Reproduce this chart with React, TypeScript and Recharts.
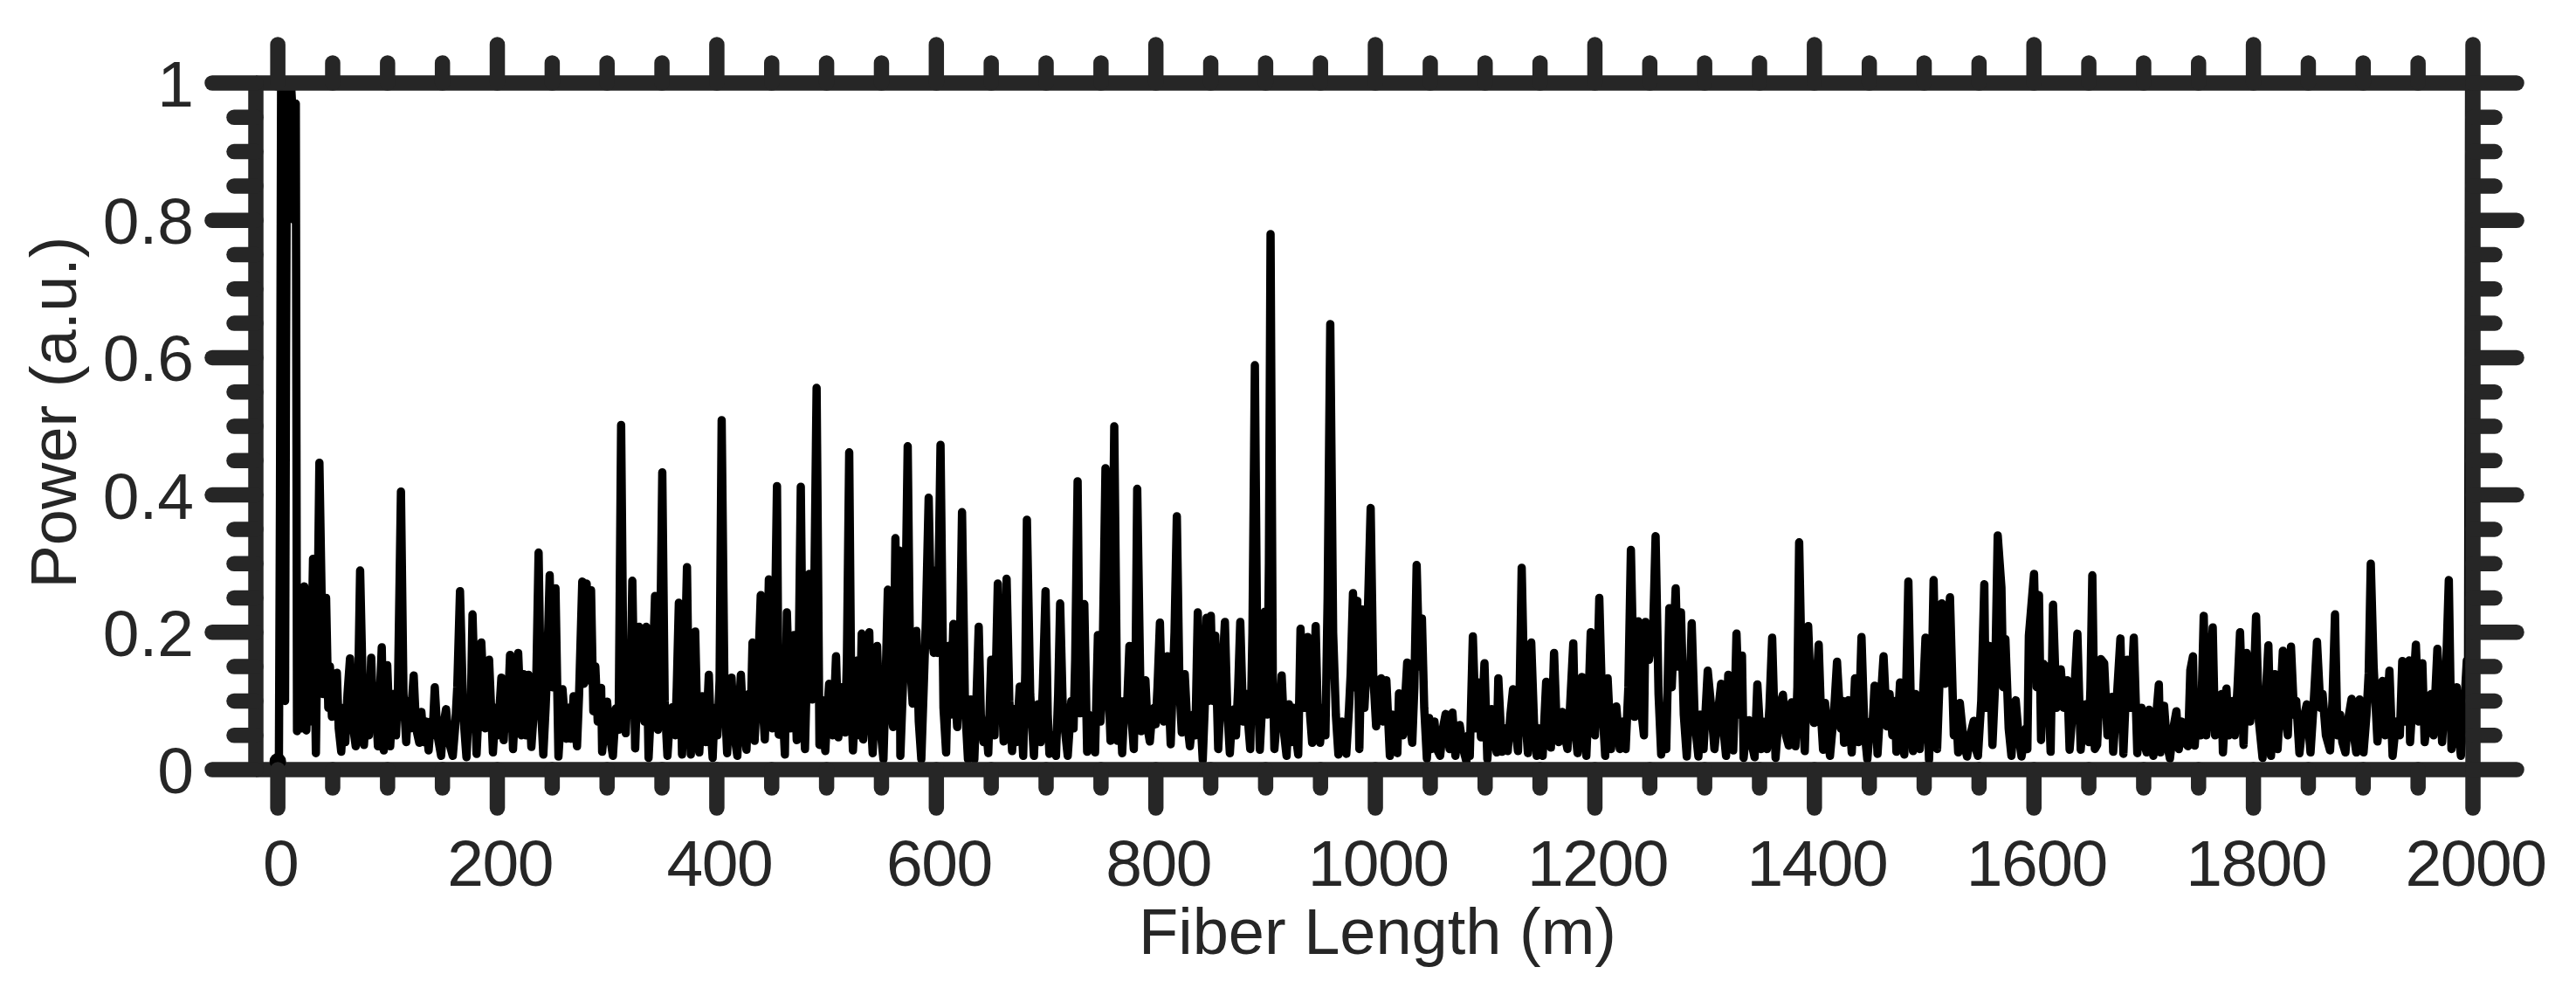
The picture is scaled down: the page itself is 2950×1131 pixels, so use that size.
import React from "react";
import { LineChart, Line, XAxis, YAxis, ReferenceDot } from "recharts";

// [fiber length in m, power in a.u.], one list per stretch of fibre
const stretch0to320 = [[0,.01],[1,.01],[2,.4],[3,.99],[4.5,1],[6,.98],[6.6,.1],[7.5,.6],[8.5,1],[10,.99],[12,1],[13,.97],[15,.8],[16,.85],[16.4,.97],[17.5,.056],[19.5,.14],[21,.06],[24.1,.267],[26,.057],[28,.17],[29.5,.07],[32.1,.307],[34.7,.024],[37.9,.447],[41.4,.11],[44,.25],[46,.09],[47.5,.15],[49.3,.077],[51,.12],[53.8,.141],[55.5,.06],[57.8,.026],[60,.09],[61.5,.04],[63.5,.11],[65.8,.162],[68,.07],[71,.034],[73,.1],[75,.29],[78.5,.036],[81,.108],[83,.05],[85.1,.163],[87,.07],[89,.11],[91.2,.034],[92.5,.09],[94.7,.178],[96.5,.028],[99.7,.152],[102.4,.034],[105,.11],[107.7,.05],[109.5,.12],[112.2,.405],[114.5,.11],[117,.04],[119,.1],[120.5,.06],[123.8,.137],[126,.06],[128.9,.039],[130.8,.084],[133,.04],[135,.07],[137.4,.028],[139.5,.07],[141,.05],[143,.12],[145.5,.05],[148.8,.02],[150.5,.06],[153.3,.088],[156,.04],[159.4,.02],[161.5,.06],[163.5,.12],[166,.26],[169,.08],[171.9,.018],[174,.09],[175.5,.06],[177.4,.226],[181.1,.023],[183,.09],[185.4,.185],[189,.06],[192.5,.16],[196,.025],[198.5,.09],[200.5,.05],[203.7,.134],[205.8,.043],[207.5,.1],[209,.06],[211.6,.167],[214.3,.03],[216.5,.1],[219,.17],[222,.05],[223.8,.139],[226,.05],[228.3,.138],[231,.033],[233.5,.09],[235.5,.13],[237.6,.316],[239.8,.09],[241.9,.022],[244,.09],[245.5,.15],[247.7,.283],[250,.12],[253,.264],[255.7,.019],[259.4,.117],[262.8,.045],[264.7,.09],[267,.045],[269.5,.107],[272.6,.034],[274.5,.11],[277.4,.274],[279,.125],[281.4,.271],[283,.13],[285.4,.261],[287.5,.085],[289.3,.15],[291.5,.07],[294.6,.119],[295.5,.026],[298,.07],[300,.099],[302.5,.05],[305.3,.02],[308,.089],[310.5,.058],[312.8,.502],[315,.11],[317,.053]];
const stretch320to650 = [[319,.13],[321,.08],[323,.275],[325.6,.031],[327,.1],[329,.208],[331,.09],[332.5,.13],[334,.07],[335.7,.208],[337.8,.017],[340,.09],[341.5,.14],[343.7,.253],[346.3,.058],[348,.13],[350.3,.433],[352.5,.1],[355,.02],[357,.07],[359.6,.091],[362,.05],[363.5,.12],[365.4,.243],[368.3,.022],[370,.1],[372.8,.295],[374.5,.09],[376.3,.022],[378,.11],[380.3,.201],[382,.08],[384,.025],[386.6,.107],[390,.04],[392.7,.138],[394.5,.06],[396.2,.017],[398,.09],[400.5,.05],[402.5,.13],[404.4,.509],[407,.11],[409.4,.024],[411,.09],[413.4,.134],[416,.05],[418.7,.02],[420,.08],[421.9,.138],[424,.07],[427,.029],[429,.11],[430.5,.05],[432.5,.185],[434.4,.042],[436.5,.11],[438,.16],[440,.254],[442,.09],[443.7,.044],[445.5,.13],[447.4,.277],[450.5,.06],[452.5,.16],[454.8,.413],[456.4,.051],[459,.12],[462,.022],[463.8,.229],[467,.06],[468.5,.11],[470.2,.196],[472.8,.043],[474.5,.15],[476.5,.412],[478.5,.1],[480.3,.03],[482,.14],[484.2,.285],[486.9,.102],[488.5,.22],[490.9,.556],[493.5,.036],[496,.101],[498.8,.027],[500.5,.08],[502.3,.125],[505.5,.05],[507,.1],[508.6,.165],[510.7,.047],[513.4,.12],[516.8,.054],[518.5,.16],[520.6,.462],[522.5,.1],[524,.028],[526,.09],[528,.159],[530,.05],[532,.198],[533.3,.044],[536,.12],[538.9,.2],[540.5,.07],[542,.024],[544,.1],[546,.18],[548.5,.07],[551.8,.015],[553.5,.11],[555.8,.262],[558,.1],[560.6,.062],[562.7,.337],[564,.15],[566.5,.319],[567.2,.02],[569.5,.12],[571.5,.2],[573.9,.471],[576,.16],[578.4,.096],[581.8,.202],[584,.07],[586.3,.015],[588.5,.12],[590.5,.22],[593,.396],[595.5,.2],[597.7,.17],[599.6,.29],[601,.17],[603.8,.473],[606.5,.09],[608.9,.025],[611,.18],[613,.08],[615.5,.212],[617.5,.1],[619,.062],[621.5,.18],[623.4,.375],[626,.1],[628.8,.015],[631.4,.102],[634.6,.015],[636.5,.1],[638.6,.208],[640.5,.08],[643,.04],[645,.07],[647.3,.024],[650,.16]];
const stretch650to985 = [[653,.05],[656,.271],[658,.08],[659.5,.13],[661.3,.041],[664,.278],[666.5,.1],[669,.027],[671,.088],[673,.04],[676,.121],[679.1,.02],[681,.14],[682.5,.364],[685.5,.11],[688.9,.02],[690.5,.08],[692.4,.095],[695,.04],[697,.12],[699.5,.26],[701.5,.08],[703,.023],[706,.05],[709,.02],[711,.11],[712.8,.242],[715,.1],[717,.06],[719.7,.02],[723,.1],[725,.06],[726.5,.16],[728.7,.42],[730.8,.082],[733,.12],[734.8,.241],[737.4,.026],[739,.08],[741,.07],[744.6,.025],[747.2,.196],[749.5,.07],[751,.11],[754.1,.439],[756.5,.14],[758.7,.042],[760,.2],[762.1,.5],[765,.042],[767.4,.1],[769.3,.024],[771.5,.1],[773.5,.08],[775.9,.18],[778,.07],[779.9,.03],[781.5,.15],[783,.409],[786.5,.056],[788,.1],[790.5,.13],[792.5,.06],[794.5,.041],[796.5,.08],[798.4,.09],[799.8,.066],[801.5,.12],[803.7,.214],[805.5,.1],[807.2,.07],[810.4,.165],[813.5,.037],[815.5,.13],[817,.2],[819.1,.369],[821.5,.12],[823.6,.054],[826.3,.139],[828.5,.07],[831,.034],[834,.08],[836,.05],[838.2,.229],[840.5,.08],[842.7,.014],[844.5,.09],[846.2,.221],[848,.1],[850.1,.224],[852,.1],[854.1,.195],[856.8,.03],[859,.1],[860.5,.14],[862.9,.215],[865,.09],[867.4,.024],[869.5,.08],[871.4,.088],[873,.05],[875,.12],[876.9,.215],[879.5,.07],[882.5,.11],[884.5,.06],[886,.03],[888,.2],[890.2,.589],[892.5,.14],[894.7,.029],[897,.1],[899.2,.23],[901.5,.08],[903,.3],[904.5,.78],[906.5,.14],[908,.03],[911,.09],[912.5,.06],[914.6,.137],[917,.05],[919.1,.02],[921.2,.095],[923,.04],[925.5,.09],[927.5,.05],[929.7,.022],[931.8,.205],[935,.09],[938.2,.193],[940.5,.08],[942.4,.039],[944,.12],[945.6,.209],[947.5,.08],[949.6,.039],[952.2,.09],[954.5,.05],[956.5,.25],[958.9,.649],[961.5,.2],[964,.08],[966.3,.022],[969.5,.07],[971.5,.04],[973.5,.023],[976,.09],[977.5,.14],[979.6,.257],[981.5,.12],[983.5,.246],[985.4,.03]];
const stretch985to1320 = [[988,.233],[990,.09],[992,.15],[993.5,.25],[995.7,.381],[998,.14],[1000.7,.063],[1003,.11],[1005.2,.133],[1007,.07],[1010,.13],[1013.2,.02],[1016,.08],[1018,.04],[1020,.024],[1021.5,.111],[1025,.05],[1027,.1],[1029,.156],[1031,.07],[1033.6,.039],[1035.5,.12],[1037.6,.298],[1040,.15],[1042.4,.22],[1044.5,.09],[1046.9,.016],[1049,.075],[1051,.03],[1053.8,.07],[1056,.03],[1059,.02],[1061.5,.06],[1064,.081],[1067.6,.03],[1070.2,.083],[1072.9,.02],[1075,.05],[1076.8,.065],[1080,.03],[1082.9,.012],[1084.8,.05],[1086,.02],[1088.8,.194],[1091.5,.06],[1094,.127],[1096.2,.047],[1099.4,.155],[1102,.015],[1104,.06],[1106,.088],[1108,.05],[1110.5,.025],[1112,.133],[1115.3,.026],[1118,.06],[1120.6,.027],[1123,.08],[1125.4,.117],[1127.5,.06],[1129.9,.027],[1131.5,.12],[1133.3,.294],[1136,.09],[1139,.024],[1142,.185],[1144.5,.07],[1147,.02],[1148.4,.06],[1150.5,.03],[1152.4,.02],[1155.6,.128],[1159.9,.032],[1161,.08],[1162.8,.17],[1165,.07],[1167,.04],[1170.2,.084],[1172.5,.05],[1175,.03],[1177,.08],[1180.3,.184],[1182,.06],[1184.2,.024],[1186,.08],[1188.2,.135],[1190,.06],[1192.2,.02],[1194,.09],[1196.2,.2],[1198,.1],[1200,.05],[1202,.12],[1204,.25],[1206.5,.1],[1209.4,.02],[1211.6,.133],[1214.7,.03],[1217,.07],[1219.5,.092],[1222.7,.03],[1225.4,.07],[1228,.03],[1230.5,.12],[1232.8,.32],[1236,.077],[1239.4,.216],[1242,.09],[1244.7,.05],[1246,.215],[1249.2,.16],[1253,.2],[1255.3,.34],[1258,.11],[1260.4,.022],[1263,.08],[1265,.03],[1267.8,.235],[1270,.12],[1273.6,.264],[1275.5,.15],[1278.4,.229],[1281,.08],[1283.7,.019],[1286,.09],[1288.2,.213],[1291,.07],[1294.3,.019],[1296.2,.08],[1299,.03],[1301,.09],[1302.8,.144],[1306,.09],[1308.9,.03],[1312,.08],[1315,.125],[1317,.06],[1319.5,.02]];
const stretch1320to1655 = [[1321.5,.138],[1326,.028],[1327.5,.1],[1329,.198],[1331.5,.08],[1334,.166],[1335.5,.017],[1338,.06],[1340.2,.072],[1342.5,.04],[1345.5,.018],[1348,.124],[1351.4,.03],[1352.7,.07],[1356.7,.03],[1359,.09],[1361.5,.192],[1364.6,.017],[1368,.09],[1371.3,.109],[1374,.05],[1376.6,.035],[1379.2,.098],[1382.7,.034],[1384.5,.12],[1386.1,.331],[1389,.09],[1391.2,.027],[1394.3,.209],[1397,.1],[1399.6,.068],[1401.5,.11],[1403.9,.182],[1406,.08],[1407.9,.029],[1409.7,.097],[1412,.05],[1414.2,.02],[1417,.07],[1418.5,.1],[1420.6,.157],[1424,.06],[1426,.1],[1427,.039],[1429,.08],[1431,.101],[1434,.025],[1437,.133],[1440,.04],[1442.9,.193],[1445.5,.06],[1448.2,.015],[1451,.07],[1452.5,.05],[1454.8,.122],[1457.5,.023],[1460,.09],[1463,.165],[1466,.063],[1468.5,.11],[1471,.05],[1473.4,.1],[1474.7,.026],[1478,.127],[1480,.05],[1481.9,.022],[1483.5,.11],[1485.6,.274],[1488,.08],[1489.8,.027],[1492,.11],[1494,.05],[1496,.03],[1498.5,.09],[1501.2,.192],[1504.4,.014],[1506.5,.1],[1508.6,.276],[1511.8,.03],[1514,.13],[1516,.242],[1519,.125],[1521.5,.19],[1523.5,.251],[1527,.05],[1529,.09],[1531,.025],[1532.5,.097],[1536,.04],[1539.1,.019],[1542,.05],[1545.2,.071],[1547,.03],[1549,.02],[1552,.1],[1554.8,.27],[1556,.09],[1559.6,.18],[1562.2,.036],[1564.5,.12],[1567,.341],[1570.4,.265],[1572,.12],[1574,.19],[1577,.06],[1579.5,.02],[1581.5,.07],[1583.4,.101],[1586,.05],[1588.7,.019],[1592.7,.06],[1594,.03],[1595.4,.195],[1600.1,.285],[1602.5,.12],[1604.6,.254],[1606.5,.043],[1608.6,.154],[1610.5,.09],[1612.6,.15],[1615.2,.026],[1617.4,.24],[1620.5,.09],[1624.5,.146],[1627,.09],[1630.4,.13],[1632.5,.029],[1635,.08],[1637,.12],[1639.6,.198],[1642.6,.029],[1645,.08],[1647,.095],[1650,.04],[1651.5,.12],[1653.2,.283]];
const stretch1655to2000 = [[1655.5,.03],[1657.6,.036],[1661,.161],[1664,.155],[1667,.05],[1669,.09],[1670.9,.106],[1672.2,.026],[1675,.09],[1678.8,.191],[1681.5,.023],[1685,.16],[1688,.09],[1691,.192],[1694.2,.024],[1696,.06],[1698,.09],[1700,.04],[1702.7,.025],[1704.8,.087],[1708.8,.02],[1711,.07],[1713.8,.124],[1715.2,.025],[1718.6,.093],[1721,.04],[1723.9,.016],[1727,.06],[1729.8,.085],[1732,.03],[1734.5,.07],[1737,.04],[1740.4,.034],[1742.5,.145],[1744.9,.165],[1746.5,.035],[1749.6,.11],[1752,.05],[1754.7,.224],[1757,.05],[1760,.11],[1762.9,.207],[1765,.05],[1768,.08],[1770.9,.11],[1772.2,.025],[1775.4,.118],[1777.5,.05],[1781,.1],[1783,.05],[1785.5,.12],[1787.8,.2],[1791,.036],[1793.7,.17],[1797,.07],[1800,.11],[1802.4,.223],[1805,.07],[1808.3,.017],[1811,.1],[1813.6,.181],[1816,.02],[1819.4,.139],[1822,.03],[1824.5,.1],[1826.8,.173],[1829,.08],[1831.3,.05],[1834.2,.179],[1837,.08],[1839,.1],[1841.9,.024],[1845,.07],[1848.6,.095],[1852,.025],[1855,.1],[1857.9,.186],[1861,.09],[1863,.11],[1866,.05],[1869.8,.028],[1872,.1],[1874.3,.226],[1876.5,.05],[1879,.08],[1881,.04],[1883.8,.025],[1886,.07],[1889.4,.103],[1891.5,.05],[1893.7,.025],[1896.6,.102],[1898.5,.05],[1900.3,.025],[1903,.08],[1905,.14],[1906.9,.3],[1909.5,.15],[1913,.041],[1915,.08],[1917.5,.129],[1920,.05],[1922,.09],[1923.9,.144],[1926.8,.02],[1930,.07],[1933.4,.05],[1935.6,.158],[1938.5,.07],[1941.9,.159],[1942.7,.04],[1945,.1],[1948,.182],[1950.5,.07],[1953.9,.155],[1956,.04],[1959,.08],[1961.8,.11],[1964,.05],[1967.6,.176],[1971.9,.04],[1975,.12],[1978,.276],[1980.4,.03],[1983,.08],[1985.2,.12],[1987,.05],[1989,.02],[1992,.09],[1994.4,.159],[1995.5,.1],[1996.5,1],[1996.9,.085]];

const xMajorTicks = [0,200,400,600,800,1000,1200,1400,1600,1800,2000];
const xMinorTicks = [50,100,150,250,300,350,450,500,550,650,700,750,850,900,950,1050,1100,1150,1250,1300,1350,1450,1500,1550,1650,1700,1750,1850,1900,1950];
const yMajorTicks = [0,0.2,0.4,0.6,0.8,1];
const yMinorTicks = [0.05,0.1,0.15,0.25,0.3,0.35,0.45,0.5,0.55,0.65,0.7,0.75,0.85,0.9,0.95];

const xLabel = "Fiber Length (m)";
const yLabel = "Power (a.u.)";

const rows = [...stretch0to320, ...stretch320to650, ...stretch650to985, ...stretch985to1320, ...stretch1320to1655, ...stretch1655to2000]
  .map(([length, power]) => ({ length, power }));

const INK = "#262626";
const FONT = "'Liberation Sans', Arial, sans-serif";
const STROKE = 17.5;
const xTicks = [...xMajorTicks, ...xMinorTicks].sort((a, b) => a - b);
const yTicks = [...yMajorTicks, ...yMinorTicks].sort((a, b) => a - b);

const mark = (x1: number, y1: number, x2: number, y2: number) => (
  <line x1={x1} y1={y1} x2={x2} y2={y2} stroke={INK} strokeWidth={STROKE} strokeLinecap="round" />
);

const BottomTick = ({ x, y, payload }: any) => {
  const major = xMajorTicks.includes(payload.value);
  return (
    <g>
      {mark(x, y, x, y + (major ? 44 : 21))}
      {major && (
        <text x={x + 3} y={y + 133} textAnchor="middle" fontSize={75} letterSpacing={-1.5} fontFamily={FONT} fill={INK}>
          {payload.value}
        </text>
      )}
    </g>
  );
};
const TopTick = ({ x, y, payload }: any) => mark(x, y, x, y - (xMajorTicks.includes(payload.value) ? 44 : 23));
const LeftTick = ({ x, y, payload }: any) => {
  const major = yMajorTicks.includes(payload.value);
  return (
    <g>
      {mark(x, y, x - (major ? 50 : 25), y)}
      {major && (
        <text x={x - 71} y={y + 27} textAnchor="end" fontSize={75} fontFamily={FONT} fill={INK}>
          {payload.value}
        </text>
      )}
    </g>
  );
};
const RightTick = ({ x, y, payload }: any) => mark(x, y, x + (yMajorTicks.includes(payload.value) ? 50 : 25), y);

const axisLine = { stroke: INK, strokeWidth: STROKE };

export default function App() {
  return (
    <div style={{ position: "absolute", left: 0, top: 0, width: 2950, height: 1131, background: "#fff" }}>
      <LineChart
        width={2950}
        height={1131}
        data={rows}
        margin={{ left: 93, right: 58, top: 45, bottom: 100 }}
      >
        <XAxis
          xAxisId="bottom"
          orientation="bottom"
          type="number"
          dataKey="length"
          domain={[-20, 2000]}
          ticks={xTicks}
          interval={0}
          height={150}
          tickLine={false}
          tickSize={0}
          tickMargin={0}
          axisLine={axisLine}
          tick={<BottomTick />}
          label={{ value: xLabel, position: "insideBottom", offset: -61, dx: 15, fontSize: 74, fontFamily: FONT, fill: INK }}
        />
        <XAxis
          xAxisId="top"
          orientation="top"
          type="number"
          dataKey="length"
          domain={[-20, 2000]}
          ticks={xTicks}
          interval={0}
          height={50}
          tickLine={false}
          tickSize={0}
          tickMargin={0}
          axisLine={axisLine}
          tick={<TopTick />}
        />
        <YAxis
          yAxisId="left"
          orientation="left"
          type="number"
          domain={[0, 1]}
          ticks={yTicks}
          interval={0}
          width={200}
          tickLine={false}
          tickSize={0}
          tickMargin={0}
          axisLine={axisLine}
          tick={<LeftTick />}
          label={{ value: yLabel, angle: -90, position: "insideLeft", offset: -32, dy: -16, fontSize: 74, fontFamily: FONT, fill: INK, textAnchor: "middle" }}
        />
        <YAxis
          yAxisId="right"
          orientation="right"
          type="number"
          domain={[0, 1]}
          ticks={yTicks}
          interval={0}
          width={60}
          tickLine={false}
          tickSize={0}
          tickMargin={0}
          axisLine={axisLine}
          tick={<RightTick />}
        />
        <Line
          xAxisId="top"
          yAxisId="right"
          dataKey="power"
          type="linear"
          stroke="none"
          dot={false}
          activeDot={false}
          isAnimationActive={false}
        />
        <Line
          xAxisId="bottom"
          yAxisId="left"
          dataKey="power"
          type="linear"
          stroke="#000"
          strokeWidth={9.5}
          strokeLinejoin="round"
          strokeLinecap="round"
          dot={false}
          activeDot={false}
          isAnimationActive={false}
        />
        <ReferenceDot xAxisId="bottom" yAxisId="left" x={0} y={0.012} r={9.5} fill="#000" stroke="none" />
      </LineChart>
    </div>
  );
}
